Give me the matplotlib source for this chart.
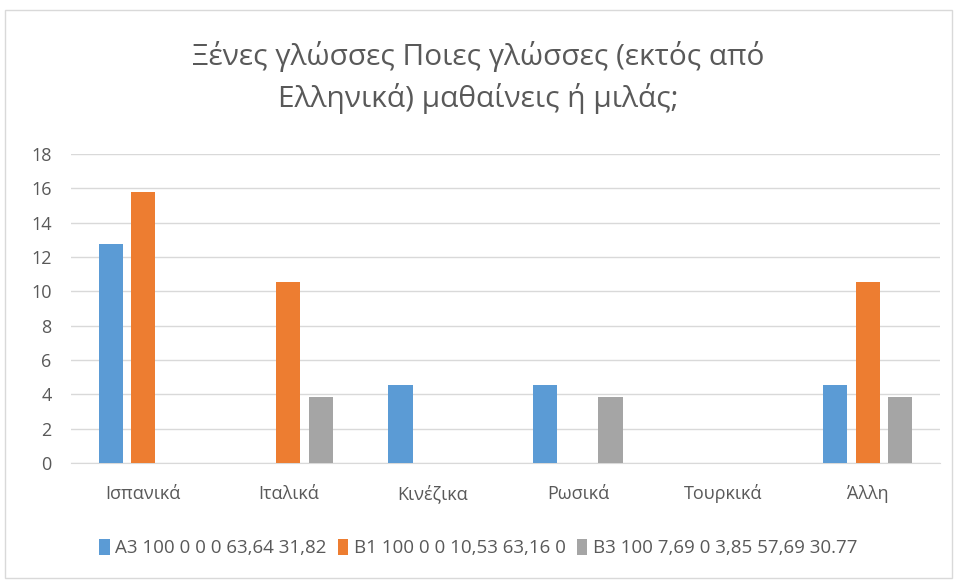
import matplotlib
matplotlib.use("Agg")
import matplotlib.pyplot as plt
import numpy as np
from matplotlib.patches import Rectangle

categories = ["Ισπανικά", "Ιταλικά", "Κινέζικα", "Ρωσικά", "Τουρκικά", "Άλλη"]
series_names = ["A3 100 0 0 0 63,64 31,82", "B1 100 0 0 10,53 63,16 0", "B3 100 7,69 0 3,85 57,69 30.77"]
a3 = [12.75, 0, 4.55, 4.55, 0, 4.55]
b1 = [15.79, 10.53, 0, 0, 0, 10.53]
b3 = [0, 3.85, 0, 3.85, 0, 3.85]
colors = ["#5B9BD5", "#ED7D31", "#A5A5A5"]
title = "Ξένες γλώσσες Ποιες γλώσσες (εκτός από\nΕλληνικά) μαθαίνεις ή μιλάς;"

plt.rcParams['font.family'] = ['Open Sans', 'DejaVu Sans']

fig = plt.figure(figsize=(9.57, 5.8), dpi=100)
ax = fig.add_axes([0.0742, 0.2017, 0.908, 0.5328])

x = np.arange(len(categories))
w = 0.166
off = 0.225
for i, (vals, name) in enumerate(zip([a3, b1, b3], series_names)):
    ax.bar(x + (i - 1) * off, vals, width=w, color=colors[i], label=name, zorder=3)

ax.set_xlim(-0.5, len(categories) - 0.5)
ax.set_ylim(0, 18)
ax.set_yticks(np.arange(0, 19, 2))
ax.set_xticks(x)
ax.set_xticklabels(categories)
for lab in ax.get_xticklabels():
    lab.set_verticalalignment('baseline')
ax.grid(axis='y', color='#d9d9d9', linewidth=1, zorder=0)
for s in ['top', 'right', 'left']:
    ax.spines[s].set_visible(False)
ax.spines['bottom'].set_color('#d9d9d9')
ax.tick_params(axis='both', length=0, colors='#595959', labelsize=13)
ax.tick_params(axis='x', pad=26)
ax.tick_params(axis='y', pad=14)

fig.text(0.5, 0.867, title, ha='center', va='center', fontsize=21.5, color='#595959',
         linespacing=1.45)

leg = fig.legend(loc='center', bbox_to_anchor=(0.5, 0.055), ncol=3, frameon=False,
                 fontsize=13.5, handlelength=0.55, handleheight=0.9, handletextpad=0.3,
                 columnspacing=0.6, labelcolor='#595959')

fig.patches.append(Rectangle((0.005, 0.003), 0.99, 0.98, transform=fig.transFigure,
                             fill=False, edgecolor='#d9d9d9', linewidth=1))

fig.savefig("out.png", dpi=100)
